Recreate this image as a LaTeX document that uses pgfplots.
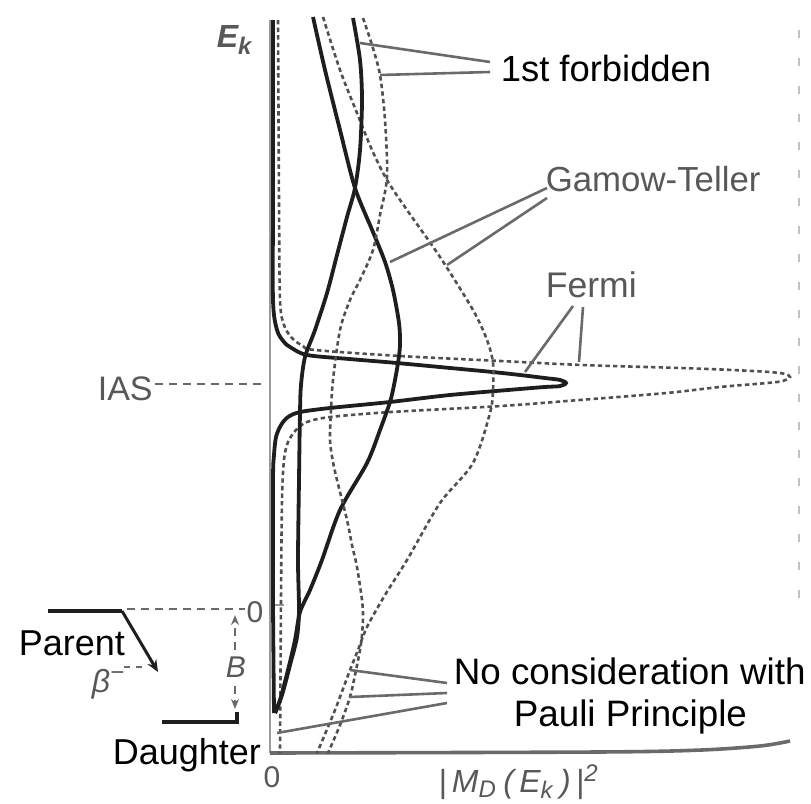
\documentclass[border=0pt]{standalone}
\usepackage{fontspec}
\setmainfont{Liberation Sans}
\usepackage{pgfplots}
\pgfplotsset{compat=1.18}
\usetikzlibrary{arrows.meta}

\definecolor{curve}{HTML}{1E1E1E}
\definecolor{nopauli}{HTML}{505050}
\definecolor{leader}{HTML}{6A6A6A}
\definecolor{oldtext}{HTML}{585858}
\definecolor{axisgray}{HTML}{9A9A9A}

% x: strength |M_D(E_k)|^2 (arbitrary units); y: E_k in units of B (IAS at 2B)
\tikzset{
  pauli/.style={curve, line width=0.95pt, smooth, tension=0.5},
  free/.style={nopauli, line width=0.65pt, dash pattern=on 1.1pt off 0.8pt, smooth, tension=0.5},
  lead/.style={leader, line width=0.65pt},
}

\begin{document}
\begin{tikzpicture}
\useasboundingbox (0,0) rectangle (202.75pt,200.75pt);
\begin{axis}[
  at={(68pt,12.5pt)}, anchor=south west,
  scale only axis, width=132pt, height=184pt,
  xmin=0, xmax=5.28, ymin=-1.274, ymax=5.239,
  axis lines=none, clip=false,
]
% axes
\addplot[axisgray, line width=0.5pt] coordinates {(-0.02,5.212) (-0.02,-1.274)};
\addplot[leader, line width=0.9pt, smooth] coordinates {(-0.02,-1.274) (3.28,-1.265) (4.28,-1.248) (4.88,-1.212) (5.18,-1.168)};
\addplot[axisgray, line width=0.6pt] coordinates {(0,0.035) (0.12,0.035)};

% Fermi, with Pauli principle
\addplot[pauli] coordinates {
 (0.01,5.212) (0.01,3.619) (0.01,2.735) (0.05,2.469) (0.12,2.363) (0.18,2.319)
 (0.35,2.248) (0.78,2.212) (1.25,2.177) (1.78,2.133) (2.21,2.097) (2.48,2.071)
 (2.73,2.044) (2.88,2.027) (2.94,2.000) (2.88,1.973) (2.73,1.965) (2.48,1.947)
 (1.78,1.894) (1.18,1.832) (0.58,1.779) (0.28,1.743) (0.16,1.699) (0.09,1.628)
 (0.04,1.522) (0.02,1.363) (0.01,1.142) (0.01,0.080) (0.02,-0.920)};
% Fermi, no Pauli principle
\addplot[free] coordinates {
 (0.06,5.212) (0.07,3.619) (0.08,2.735) (0.12,2.513) (0.20,2.398) (0.31,2.327)
 (0.43,2.292) (1.28,2.239) (2.28,2.195) (3.11,2.159) (4.08,2.133) (4.61,2.115)
 (4.98,2.097) (5.13,2.080) (5.18,2.053) (5.11,2.018) (4.95,2.000) (4.48,1.965)
 (3.95,1.912) (3.08,1.850) (2.28,1.796) (1.18,1.743) (0.58,1.699) (0.35,1.655)
 (0.24,1.584) (0.16,1.478) (0.12,1.319) (0.10,0.965) (0.09,0.080) (0.08,-1.274)};

% Gamow-Teller, with Pauli principle
\addplot[pauli] coordinates {
 (0.41,5.239) (0.53,4.770) (0.68,4.239) (0.83,3.726) (1.01,3.336) (1.13,3.071)
 (1.21,2.823) (1.27,2.531) (1.28,2.336) (1.26,2.177) (1.22,1.982) (1.18,1.832)
 (1.08,1.584) (0.95,1.292) (0.68,0.876) (0.50,0.434) (0.38,0.168) (0.28,-0.027)
 (0.23,-0.274) (0.16,-0.540) (0.08,-0.805) (0.03,-0.920)};
% Gamow-Teller, no Pauli principle
\addplot[free] coordinates {
 (0.51,5.239) (0.68,4.770) (0.85,4.389) (1.00,4.062) (1.15,3.796) (1.35,3.531)
 (1.68,3.115) (2.01,2.646) (2.15,2.381) (2.21,2.177) (2.21,1.938) (2.18,1.735)
 (2.01,1.292) (1.68,0.938) (1.35,0.434) (1.13,0.124) (0.95,-0.159) (0.86,-0.363)
 (0.78,-0.540) (0.63,-0.894) (0.45,-1.274)};

% 1st forbidden, with Pauli principle
\addplot[pauli] coordinates {
 (0.81,5.230) (0.88,4.858) (0.90,4.504) (0.88,4.062) (0.83,3.726) (0.75,3.469)
 (0.65,3.133) (0.55,2.796) (0.43,2.469) (0.33,2.230) (0.29,1.982) (0.28,1.743)
 (0.27,1.142) (0.26,0.434) (0.27,-0.009) (0.25,-0.248) (0.18,-0.496) (0.10,-0.761)
 (0.03,-0.920)};
% 1st forbidden, no Pauli principle
\addplot[free] coordinates {
 (0.91,5.230) (1.00,4.991) (1.08,4.726) (1.13,4.327) (1.15,3.823) (1.08,3.487)
 (1.01,3.177) (0.88,2.912) (0.78,2.735) (0.68,2.469) (0.61,2.027) (0.59,1.761)
 (0.58,1.496) (0.61,1.301) (0.65,1.142) (0.75,0.788) (0.80,0.566) (0.85,0.372)
 (0.90,0.080) (0.91,-0.071) (0.90,-0.230) (0.88,-0.363) (0.83,-0.584) (0.78,-0.779)
 (0.68,-1.027) (0.56,-1.274)};
\end{axis}

% annotations, in units of 1/4 pt measured from the top left corner
\begin{scope}[x=0.25pt, y=-0.25pt, yshift=200.75pt]
 % faint right border
 \draw[axisgray!60, line width=0.5pt, dash pattern=on 2pt off 5pt] (799,30) -- (799,610);

 % leader lines
 \draw[lead] (490,62) -- (360,43);
 \draw[lead] (490,72) -- (380,75);
 \draw[lead] (547,188) -- (390,262);
 \draw[lead] (547,198) -- (447,265);
 \draw[lead] (573,306) -- (525,372);
 \draw[lead] (583,307) -- (579,362);
 \draw[lead] (447,683) -- (350,670);
 \draw[lead] (447,693) -- (350,697);
 \draw[lead] (447,703) -- (277,733);

 % level scheme
 \draw[curve, line width=1.1pt] (48,611) -- (122,611);
 \draw[curve, line width=0.75pt, -{Stealth[length=3pt,width=2.5pt]}] (122,611) -- (158,672);
 \draw[leader, line width=0.65pt, dash pattern=on 2pt off 1.5pt] (127,609) -- (245,609);
 \draw[curve, line width=1.1pt] (162,722) -- (237,722) -- (237,712);
 \draw[leader, line width=0.65pt, dash pattern=on 2pt off 1.5pt, -{Stealth[length=2.5pt,width=2pt]}] (235,650) -- (235,615);
 \draw[leader, line width=0.65pt, dash pattern=on 2pt off 1.5pt, -{Stealth[length=2.5pt,width=2pt]}] (235,686) -- (235,709);
 \draw[leader, line width=0.65pt, dash pattern=on 1.5pt off 1.5pt] (124,667) -- (148,667);
 \draw[leader, line width=0.65pt, dash pattern=on 2pt off 1.5pt] (155,384) -- (262,384);

 % labels added in black
 \node[anchor=base west, inner sep=0, font=\fontsize{9.1pt}{11pt}\selectfont] at (500,82) {1st forbidden};
 \node[anchor=base west, inner sep=0, font=\fontsize{9.2pt}{11pt}\selectfont] at (453,684) {No consideration with};
 \node[anchor=base west, inner sep=0, font=\fontsize{9.2pt}{11pt}\selectfont] at (513,726) {Pauli Principle};
 \node[anchor=base west, inner sep=0, font=\fontsize{9pt}{11pt}\selectfont] at (18,655) {Parent};
 \node[anchor=base west, inner sep=0, font=\fontsize{9pt}{11pt}\selectfont] at (112,764) {Daughter};

 % labels in grey
 \begin{scope}[text=oldtext]
 \node[anchor=base west, inner sep=0, font=\fontsize{8.7pt}{10pt}\selectfont] at (545,192) {Gamow-Teller};
 \node[anchor=base west, inner sep=0, font=\fontsize{8.9pt}{10pt}\selectfont] at (545,298) {Fermi};
 \node[anchor=base west, inner sep=0, font=\fontsize{8.5pt}{10pt}\selectfont] at (97,401) {IAS};
 \node[anchor=base west, inner sep=0, font=\fontsize{8pt}{9pt}\selectfont\bfseries\itshape] at (216,48) {E\textsubscript{k}};
 \node[inner sep=0, font=\fontsize{7.5pt}{8pt}\selectfont] at (255,612) {0};
 \node[inner sep=0, font=\fontsize{7.5pt}{8pt}\selectfont] at (272,777) {0};
 \node[inner sep=0, font=\fontsize{7.5pt}{8pt}\selectfont\itshape] at (236,667) {B};
 \node[inner sep=0, font=\fontsize{8pt}{9pt}\selectfont\itshape] at (109,684) {β\textsuperscript{−}};
 \node[inner sep=0, font=\fontsize{8pt}{9pt}\selectfont\itshape] at (519,782) {|\,M\textsubscript{D}\,(\,E\textsubscript{k}\,)\,|\textsuperscript{2}};
 \end{scope}
\end{scope}
\end{tikzpicture}
\end{document}
